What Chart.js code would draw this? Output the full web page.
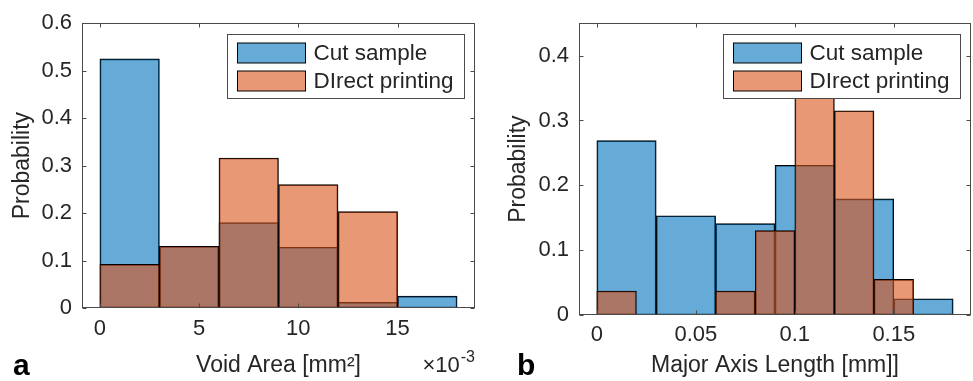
<!DOCTYPE html>
<html lang="en">
<head>
  <meta charset="UTF-8">
  <title>Void histograms</title>
  <style>
    body { margin: 0; background: #fff; }
    .panel { position: absolute; top: 0; height: 381px; }
    #panelA { left: 0; width: 490px; }
    #panelB { left: 490px; width: 483px; }
  </style>
</head>
<body>
  <div class="panel" id="panelA"><canvas id="chartA"></canvas></div>
  <div class="panel" id="panelB"><canvas id="chartB"></canvas></div>

  <script src="https://cdn.jsdelivr.net/npm/chart.js"></script>
  <script>
    // panel a: void area, bins of 3 (x values in units of 1e-3 mm^2)
    const areaCutCenters = [1.5, 4.5, 7.5, 10.5, 13.5, 16.5];
    const areaCut = [0.525, 0.130, 0.180, 0.128, 0.012, 0.025];
    const areaDirectCenters = [1.5, 4.5, 7.5, 10.5, 13.5, 16.5];
    const areaDirect = [0.092, 0.130, 0.316, 0.260, 0.203, 0];
    const areaXTicks = [0, 5, 10, 15];
    const areaYTicks = [0, 0.1, 0.2, 0.3, 0.4, 0.5, 0.6];

    // panel b: major axis length, cut sample in 0.03 mm bins, direct printing in 0.02 mm bins
    const lengthCutCenters = [0.015, 0.045, 0.075, 0.105, 0.135, 0.165];
    const lengthCut = [0.269, 0.153, 0.141, 0.231, 0.179, 0.025];
    const lengthDirectCenters = [0.01, 0.03, 0.05, 0.07, 0.09, 0.11, 0.13, 0.15];
    const lengthDirect = [0.037, 0, 0, 0.037, 0.130, 0.425, 0.315, 0.055];
    const lengthXTicks = [0, 0.05, 0.1, 0.15];
    const lengthYTicks = [0, 0.1, 0.2, 0.3, 0.4];

    const FONT = '"Liberation Sans", Arial, Helvetica, sans-serif';
    const TEXT = '#262626';
    const AXIS = '#4a4a4a';
    const cutFill = 'rgba(0, 114, 189, 0.6)';
    const directFill = 'rgba(217, 83, 25, 0.6)';

    function fixedTicks(values) {
      return scale => { scale.ticks = values.map(v => ({ value: v })); };
    }

    // matlab style box with inward ticks on all four sides
    const axesFrame = {
      id: 'axesFrame',
      afterDatasetsDraw(chart) {
        const { ctx, chartArea, scales } = chart;
        const l = Math.round(chartArea.left) + 0.5, r = Math.round(chartArea.right) - 0.5;
        const t = Math.round(chartArea.top) + 0.5, b = Math.round(chartArea.bottom) - 0.5;
        ctx.save();
        ctx.strokeStyle = AXIS;
        ctx.lineWidth = 1;
        ctx.beginPath();
        scales.x.ticks.forEach(tk => {
          const px = Math.round(scales.x.getPixelForValue(tk.value)) + 0.5;
          ctx.moveTo(px, b); ctx.lineTo(px, b - 4);
          ctx.moveTo(px, t); ctx.lineTo(px, t + 4);
        });
        scales.y.ticks.forEach(tk => {
          const py = Math.round(scales.y.getPixelForValue(tk.value)) + 0.5;
          ctx.moveTo(l, py); ctx.lineTo(l + 4, py);
          ctx.moveTo(r, py); ctx.lineTo(r - 4, py);
        });
        ctx.stroke();
        ctx.strokeRect(l, t, r - l, b - t);
        ctx.restore();
      }
    };

    // boxed legend in the top right corner of the axes
    const boxLegend = {
      id: 'boxLegend',
      afterDraw(chart) {
        const { ctx, chartArea } = chart;
        const items = chart.data.datasets.map(ds => ({ text: ds.label, fill: ds.backgroundColor }));
        ctx.save();
        ctx.font = '22.5px ' + FONT;
        const textW = Math.max(...items.map(it => ctx.measureText(it.text).width));
        const swW = 68, swH = 20, rowH = 28.3;
        const w = Math.round(10 + swW + 8 + textW + 11);
        const h = 64;
        const x = Math.round(chartArea.right - 11 - w) + 0.5;
        const y = Math.round(chartArea.top + 11) + 0.5;
        ctx.fillStyle = '#fff';
        ctx.fillRect(x, y, w, h);
        ctx.strokeStyle = AXIS;
        ctx.lineWidth = 1;
        ctx.strokeRect(x, y, w, h);
        items.forEach((it, i) => {
          const sx = x + 10, sy = Math.round(y + 8 + i * rowH);
          ctx.fillStyle = it.fill;
          ctx.fillRect(sx, sy, swW, swH);
          ctx.strokeStyle = '#000';
          ctx.strokeRect(sx, sy, swW, swH);
          ctx.fillStyle = TEXT;
          ctx.textBaseline = 'middle';
          ctx.textAlign = 'left';
          ctx.fillText(it.text, sx + swW + 8, sy + swH / 2 + 1);
        });
        ctx.restore();
      }
    };

    // panel letter and the x10^-3 multiplier
    const panelText = {
      id: 'panelText',
      afterDraw(chart, args, opts) {
        const { ctx, chartArea } = chart;
        ctx.save();
        ctx.fillStyle = '#000';
        ctx.textBaseline = 'alphabetic';
        ctx.textAlign = 'left';
        ctx.font = 'bold 30px ' + FONT;
        ctx.fillText(opts.tag, opts.tagX, 375);
        if (opts.exponent) {
          ctx.fillStyle = TEXT;
          ctx.textAlign = 'right';
          ctx.font = '16px ' + FONT;
          const ew = ctx.measureText(opts.exponent).width;
          ctx.fillText(opts.exponent, chartArea.right, 362);
          ctx.font = '22px ' + FONT;
          ctx.fillText('\u00d710', chartArea.right - ew - 1, 372);
        }
        ctx.restore();
      }
    };

    function makePanel(canvasId, p) {
      return new Chart(document.getElementById(canvasId), {
        type: 'bar',
        data: {
          datasets: [
            {
              label: 'Cut sample',
              data: p.cutX.map((x, i) => ({ x: x, y: p.cutY[i] })),
              xAxisID: 'xCut',
              backgroundColor: cutFill,
              order: 1
            },
            {
              label: 'DIrect printing',
              data: p.directX.map((x, i) => ({ x: x, y: p.directY[i] })),
              xAxisID: 'x',
              backgroundColor: directFill,
              order: 0
            }
          ]
        },
        options: {
          responsive: true,
          maintainAspectRatio: false,
          animation: false,
          datasets: {
            bar: {
              borderColor: '#000',
              borderWidth: 1,
              borderSkipped: false,
              grouped: false,
              barPercentage: 1,
              categoryPercentage: 1
            }
          },
          layout: { padding: p.padding },
          scales: {
            x: {
              type: 'linear',
              position: 'bottom',
              min: p.xMin,
              max: p.xMax,
              offset: false,
              grid: { display: false, drawTicks: false },
              border: { display: false },
              afterBuildTicks: fixedTicks(p.xTicks),
              afterFit: s => { s.height = p.xHeight; },
              ticks: {
                padding: p.xTickPad,
                maxRotation: 0,
                color: TEXT,
                font: { family: FONT, size: 22 },
                callback: v => String(v)
              },
              title: {
                display: true,
                text: p.xTitle,
                color: TEXT,
                font: { family: FONT, size: 23 },
                padding: { top: 0, bottom: 2 }
              }
            },
            xCut: {
              type: 'linear',
              display: false,
              min: p.xMin,
              max: p.xMax,
              offset: false,
              afterBuildTicks: fixedTicks(p.xTicks)
            },
            y: {
              min: 0,
              max: p.yMax,
              grid: { display: false, drawTicks: false },
              border: { display: false },
              afterBuildTicks: fixedTicks(p.yTicks),
              afterFit: s => { s.width = p.yWidth; },
              ticks: {
                padding: 10,
                color: TEXT,
                font: { family: FONT, size: 22 },
                callback: v => String(v)
              },
              title: {
                display: true,
                text: 'Probability',
                color: TEXT,
                font: { family: FONT, size: 23 },
                padding: { top: p.yTitlePad, bottom: 0 }
              }
            }
          },
          plugins: {
            legend: { display: false },
            tooltip: { enabled: false },
            panelText: { tag: p.tag, tagX: p.tagX, exponent: p.exponent }
          }
        },
        plugins: [axesFrame, boxLegend, panelText]
      });
    }

    makePanel('chartA', {
      cutX: areaCutCenters, cutY: areaCut,
      directX: areaDirectCenters, directY: areaDirect,
      xMin: -0.9, xMax: 18.9, xTicks: areaXTicks,
      yMax: 0.6, yTicks: areaYTicks,
      xTitle: 'Void Area [mm\u00b2]',
      padding: { left: 0, top: 20, right: 15, bottom: 0 },
      xHeight: 73, xTickPad: 8, yWidth: 82, yTitlePad: 9,
      tag: 'a', tagX: 13, exponent: '-3'
    });

    makePanel('chartB', {
      cutX: lengthCutCenters, cutY: lengthCut,
      directX: lengthDirectCenters, directY: lengthDirect,
      xMin: -0.009, xMax: 0.189, xTicks: lengthXTicks,
      yMax: 0.45, yTicks: lengthYTicks,
      xTitle: 'Major Axis Length [mm]]',
      padding: { left: 0, top: 20, right: 2, bottom: 0 },
      xHeight: 66, xTickPad: 7, yWidth: 89, yTitlePad: 15,
      tag: 'b', tagX: 27, exponent: null
    });
  </script>
</body>
</html>
